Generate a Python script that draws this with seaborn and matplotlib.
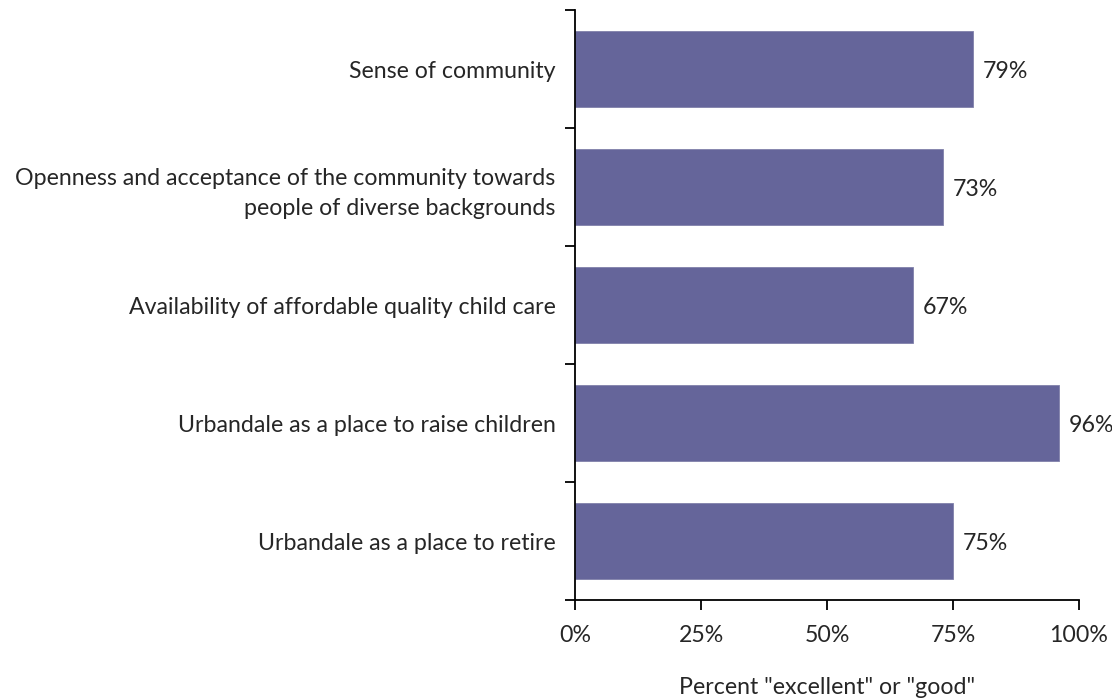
import matplotlib
matplotlib.use("Agg")
import matplotlib.pyplot as plt
import seaborn as sns
import pandas as pd
import numpy as np
from matplotlib.ticker import FixedLocator

categories = [
    "Sense of community",
    "Openness and acceptance of the community towards\npeople of diverse backgrounds",
    "Availability of affordable quality child care",
    "Urbandale as a place to raise children",
    "Urbandale as a place to retire",
]
values = [79, 73, 67, 96, 75]
xticks = [0, 25, 50, 75, 100]
xtick_labels = ["0%", "25%", "50%", "75%", "100%"]

sns.set_style("white")
plt.rcParams['font.family'] = ['Lato', 'DejaVu Sans']

df = pd.DataFrame({"cat": categories, "val": values})

FS = 16.7
fig = plt.figure(figsize=(11.12, 7), dpi=100)
ax = fig.add_axes([575/1112, 1-600/700, (1079-575)/1112, 590/700])
sns.barplot(data=df, y="cat", x="val", orient="h", color="#65659A",
            saturation=1, width=0.645, ax=ax, edgecolor="#8080AA", linewidth=0.6)

ax.set_xlim(0, 100)
ax.set_ylim(len(categories)-0.5, -0.5)
ax.set_xticks(xticks)
ax.set_xticklabels(xtick_labels, fontsize=FS)
ax.set_xlabel('Percent "excellent" or "good"', fontsize=FS, labelpad=22)
ax.set_ylabel("")
ax.tick_params(axis='y', which='major', length=0, pad=14, labelsize=FS)
ax.yaxis.set_minor_locator(FixedLocator(np.arange(-0.5, len(categories), 1.0)))
ax.tick_params(axis='y', which='minor', length=7, width=1.3, color='black', left=True)
ax.tick_params(axis='x', which='major', length=7, width=1.3, color='black', bottom=True, pad=11)
for lab in ax.get_yticklabels():
    lab.set_horizontalalignment('right')
    lab.set_linespacing(1.55)

for s in ['top', 'right']:
    ax.spines[s].set_visible(False)
for s in ['left', 'bottom']:
    ax.spines[s].set_color('black')
    ax.spines[s].set_linewidth(1.3)

for i, v in enumerate(values):
    ax.annotate(f"{v}%", xy=(v, i), xytext=(7, -2), textcoords='offset points',
                va='center', ha='left', fontsize=FS, clip_on=False)

fig.savefig("out.png", dpi=100)
